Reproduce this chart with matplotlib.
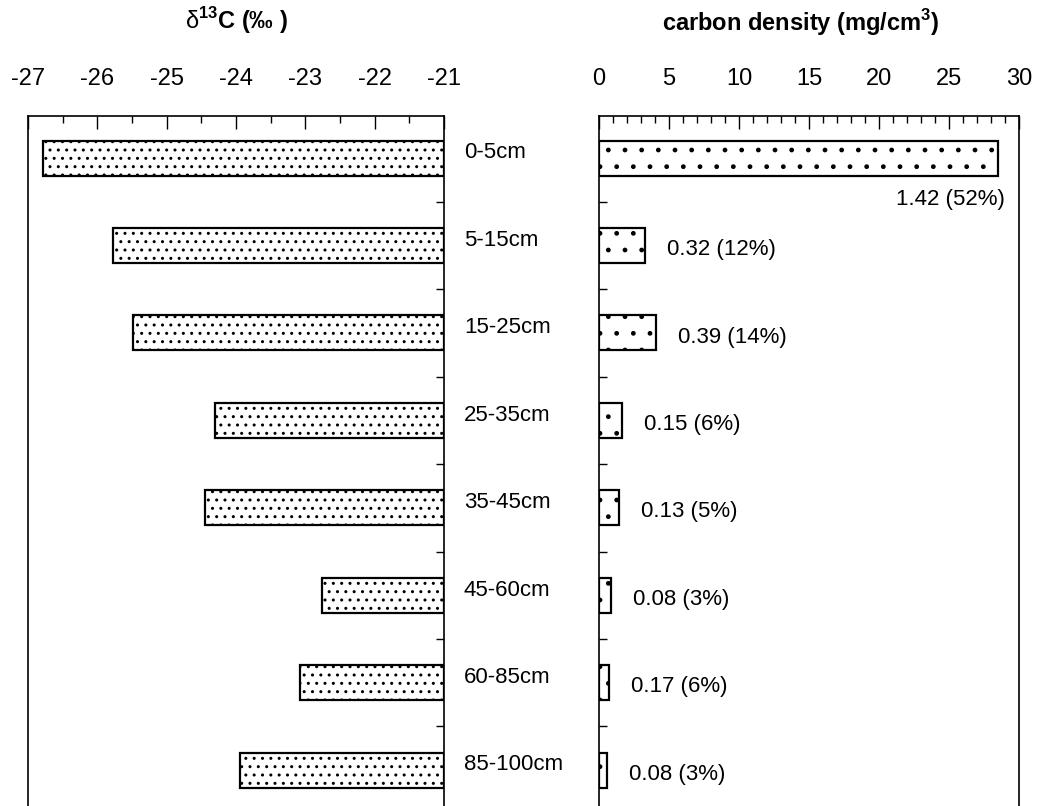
import numpy as np
import matplotlib.pyplot as plt

plt.rcParams['font.family'] = ['Liberation Sans', 'DejaVu Sans']
plt.rcParams['mathtext.fontset'] = 'custom'
plt.rcParams['mathtext.rm'] = 'Liberation Sans'
plt.rcParams['mathtext.bf'] = 'Liberation Sans:bold'
plt.rcParams['hatch.linewidth'] = 1.0

# depth intervals (top to bottom)
depths = ['0-5cm', '5-15cm', '15-25cm', '25-35cm', '35-45cm', '45-60cm', '60-85cm', '85-100cm']
# delta 13C (per mil)
d13c = [-26.78, -25.77, -25.49, -24.30, -24.45, -22.76, -23.08, -23.94]
# carbon density (mg/cm3)
density = [28.5, 3.3, 4.07, 1.64, 1.43, 0.86, 0.71, 0.57]
# annotation text on the density bars
density_labels = ['1.42 (52%)', '0.32 (12%)', '0.39 (14%)', '0.15 (6%)',
                  '0.13 (5%)', '0.08 (3%)', '0.17 (6%)', '0.08 (3%)']

fig = plt.figure(figsize=(10.37, 8.06), dpi=100)
ax1 = fig.add_axes([0.027, 0.0, 0.401, 0.856])
ax2 = fig.add_axes([0.5776, 0.0, 0.405, 0.856])

y = np.arange(len(depths))
bar_h = 0.4

# left panel: bars grow from -21 to the value
ax1.barh(y, np.array(d13c) + 21, left=-21, height=bar_h, color='white',
         edgecolor='black', linewidth=1.6, hatch='..')
ax1.set_xlim(-27, -21)
ax1.set_xticks(np.arange(-27, -20, 1))
ax1.set_xticks(np.arange(-27, -21, 0.5), minor=True)
ax1.set_xticklabels([str(v) for v in range(-27, -20)])

# right panel
ax2.barh(y, density, height=bar_h, color='white', edgecolor='black',
         linewidth=1.6, hatch='.')
ax2.set_xlim(0, 30)
ax2.set_xticks(np.arange(0, 31, 5))
ax2.set_xticks(np.arange(0, 30, 1), minor=True)

for i, (v, lab) in enumerate(zip(density, density_labels)):
    if i == 0:
        ax2.annotate(lab, (v, i), xytext=(5, -30), textcoords='offset points',
                     ha='right', va='center', fontsize=16)
    else:
        ax2.annotate(lab, (v, i), xytext=(16, -3), textcoords='offset points',
                     ha='left', va='center', fontsize=16)

# depth labels in the gap between the panels
for i, d in enumerate(depths):
    ax1.text(1.048, i - 0.06, d, transform=ax1.get_yaxis_transform(),
             ha='left', va='center', fontsize=16)

for ax in (ax1, ax2):
    ax.set_ylim(7.41, -0.48)
    ax.xaxis.tick_top()
    ax.tick_params(axis='x', which='major', direction='in', length=9, width=1,
                   labelsize=17, pad=19)
    ax.tick_params(axis='x', which='minor', direction='in', length=5, width=1)
    ax.spines['bottom'].set_visible(False)
    for s in ('top', 'left', 'right'):
        ax.spines[s].set_linewidth(1.2)
    ax.set_yticks(np.arange(0.5, 7, 1))
    ax.set_yticklabels([])

ax1.yaxis.tick_right()
ax1.tick_params(axis='y', direction='in', length=6, width=1)
ax2.yaxis.tick_left()
ax2.tick_params(axis='y', direction='in', length=6, width=1)

fig.text(0.2276, 0.975, r'$\mathrm{δ}^{\mathbf{13}}$C (‰ )', ha='center', va='center',
         fontsize=17, fontweight='bold')
fig.text(0.7724, 0.972, r'carbon density (mg/cm$^{\mathbf{3}}$)', ha='center',
         va='center', fontsize=17, fontweight='bold')

fig.savefig('out.png', dpi=100)
